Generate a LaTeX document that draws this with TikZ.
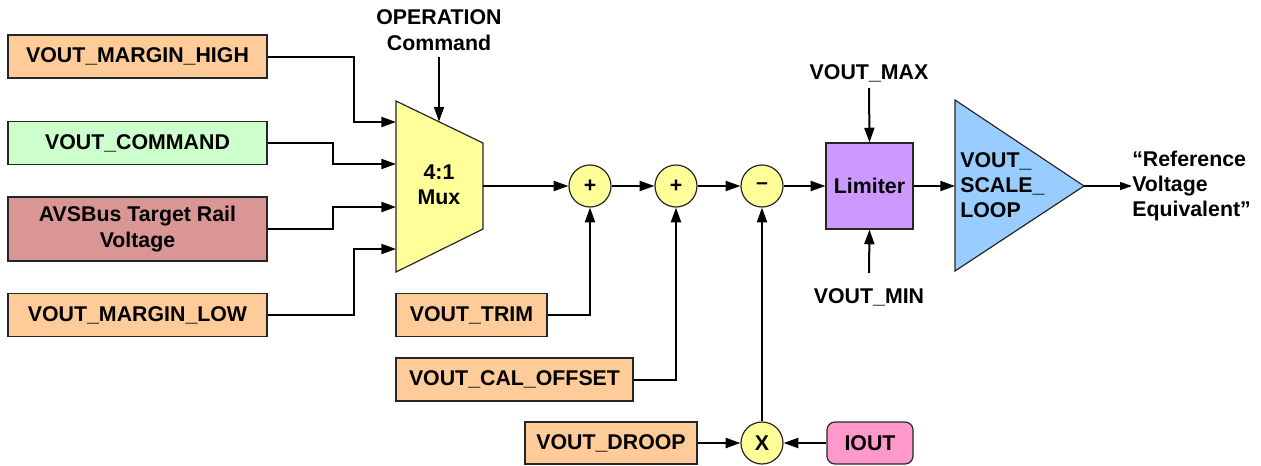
\documentclass[tikz,border=0pt]{standalone}
\usepackage{fontspec}
\setmainfont{Liberation Sans}
\usetikzlibrary{arrows.meta,calc}
\definecolor{peach}{HTML}{FFCC99}
\definecolor{mint}{HTML}{CCFFCC}
\definecolor{rosebrown}{HTML}{D99694}
\definecolor{yellowc}{HTML}{FFFF99}
\definecolor{lilac}{HTML}{CC99FF}
\definecolor{skyb}{HTML}{99CCFF}
\definecolor{pinkc}{HTML}{FF99CC}
\begin{document}
\begin{tikzpicture}[x=0.75pt,y=-0.75pt,
  font=\fontsize{16pt}{19pt}\selectfont\bfseries,
  box/.style={draw=black!85, line width=0.9pt, minimum height=32.25pt, inner sep=0pt, align=center},
  sumc/.style={circle, draw=black!85, fill=yellowc, line width=0.9pt, minimum size=31.5pt, inner sep=0pt},
  arr/.style={line width=1.5pt, -{Triangle[length=11pt,width=7.5pt]}},
  thinarr/.style={line width=1pt, -{Triangle[length=9pt,width=6pt]}},
  lbl/.style={inner sep=0pt, align=center}
  ]
\useasboundingbox (0,0) rectangle (1261,465);

% left input boxes
\node[box, fill=peach, minimum width=194.25pt] (mhigh) at (137.5,56.5) {VOUT\_MARGIN\_HIGH};
\node[box, fill=mint, minimum width=194.25pt] (vcmd) at (137.5,143) {VOUT\_COMMAND};
\node[box, fill=rosebrown, minimum width=194.25pt, minimum height=48pt] (avs) at (137.5,229) {AVSBus Target Rail\\Voltage};
\node[box, fill=peach, minimum width=194.25pt] (mlow) at (137.5,315) {VOUT\_MARGIN\_LOW};

% mux
\draw[fill=yellowc, draw=black!85, line width=0.9pt] (396,101) -- (483,143) -- (483,229) -- (396,272) -- cycle;
\node[lbl] (mux) at (439,185) {4:1\\Mux};
\coordinate (m1) at (396,122);
\coordinate (m2) at (396,164);
\coordinate (m3) at (396,207);
\coordinate (m4) at (396,249);
\coordinate (mout) at (483,186);
\coordinate (mtop) at (439,121.5);
\node[lbl] (op) at (439,30) {OPERATION\\Command};

% summing junctions
\node[sumc] (c1) at (590,186) {+};
\node[sumc] (c2) at (676,186) {+};
\node[sumc] (c3) at (762,186) {–};
\node[sumc] (cx) at (762,443) {X};

% lower boxes
\node[box, fill=peach, minimum width=113.25pt] (trim) at (471.5,315) {VOUT\_TRIM};
\node[box, fill=peach, minimum width=177.75pt] (cal) at (514.5,379.5) {VOUT\_CAL\_OFFSET};
\node[box, fill=peach, minimum width=129pt, minimum height=31.5pt] (droop) at (611,443) {VOUT\_DROOP};
\node[box, fill=pinkc, minimum width=64.5pt, minimum height=31.5pt, rounded corners=6pt] (iout) at (870,443) {IOUT};

% limiter
\node[box, fill=lilac, minimum width=65.25pt, minimum height=64.5pt] (lim) at (869.5,186) {Limiter};
\node[lbl] (vmax) at (869,73) {VOUT\_MAX};
\node[lbl] (vmin) at (869,297) {VOUT\_MIN};

% scale loop triangle
\draw[fill=skyb, draw=black!85, line width=0.9pt] (955,100) -- (1084,186) -- (955,271) -- cycle;
\coordinate (tin) at (955,186);
\coordinate (tout) at (1084,186);
\node[lbl, anchor=west, align=left] (scl) at (960,185) {VOUT\_\\SCALE\_\\LOOP};
\node[lbl, anchor=west, align=left] (ref) at (1132,186) {“Reference\\Voltage\\Equivalent”};

% connectors
\draw[arr] (mhigh.east) -- ++(86,0) |- (m1);
\draw[arr] (vcmd.east) -- ++(65,0) |- (m2);
\draw[arr] (avs.east) -- ++(65,0) |- (m3);
\draw[arr] (mlow.east) -- ++(86,0) |- (m4);
\draw[arr] ($(op.center)+(0,27)$) -- (mtop);
\draw[arr] (mout) -- (c1.west);
\draw[arr] (c1.east) -- (c2.west);
\draw[arr] (c2.east) -- (c3.west);
\draw[arr] (c3.east) -- (lim.west);
\draw[arr] (trim.east) -| (c1.south);
\draw[arr] (cal.east) -| (c2.south);
\draw[arr] (droop.east) -- (cx.west);
\draw[arr] (iout.west) -- (cx.east);
\draw[arr] (cx.north) -- (c3.south);
\draw[arr] ($(vmax.center)+(0,15)$) -- (lim.north);
\draw[arr] ($(vmin.center)+(0,-24)$) -- (lim.south);
\draw[arr] (lim.east) -- (tin);
\draw[thinarr] (tout) -- (ref.west);
\end{tikzpicture}
\end{document}
